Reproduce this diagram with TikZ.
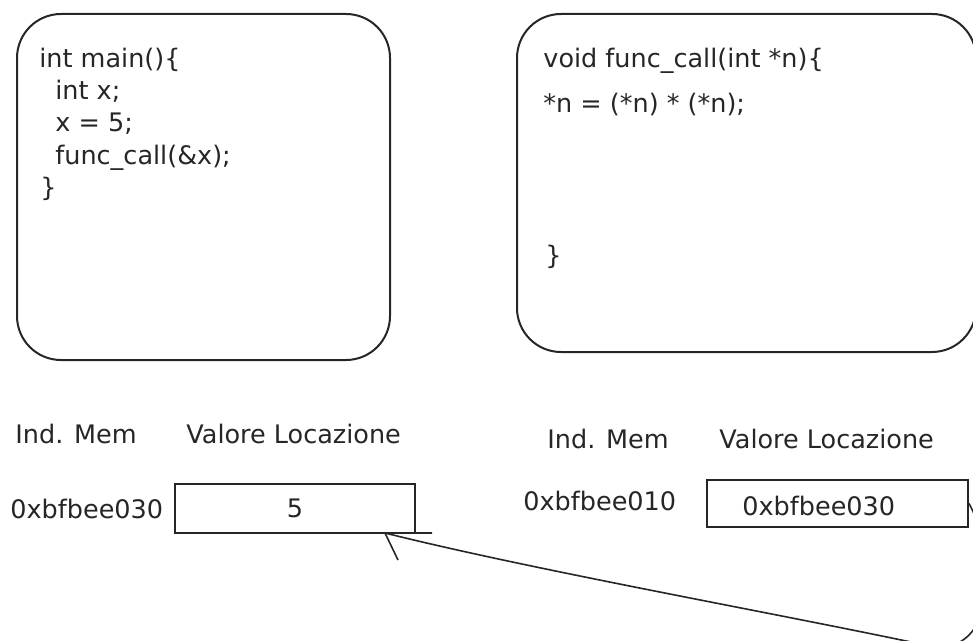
\documentclass[tikz,border=0pt]{standalone}
\usepackage{fontspec}
\setmainfont{DejaVu Sans}
\begin{document}
\begin{tikzpicture}[x=0.5pt,y=-0.5pt,
  txt/.style={anchor=base west,inner sep=0,font=\fontsize{12.75}{15}\selectfont,text=black!85},
  frame/.style={draw=black!85,line width=1pt,rounded corners=22pt,inner sep=0},
  cell/.style={draw=black!85,line width=1pt,inner sep=0,font=\fontsize{12.75}{15}\selectfont,text=black!85},
  conn/.style={draw=black!85,line width=0.8pt}]
\useasboundingbox (0,0) rectangle (973,641);
% frames
\node[frame,minimum width=186.5pt,minimum height=173pt] (mainbox) at (203.5,187) {};
\node[frame,minimum width=229.5pt,minimum height=169pt] (funcbox) at (746.5,183) {};
% code in main
\node[txt] (m1) at (39,68) {int main()\{};
\node[txt] (m2) at (55,100) {int x;};
\node[txt] (m3) at (55,132) {x = 5;};
\node[txt] (m4) at (55,165) {func\_call(\&x);};
\node[txt] (m5) at (40,197) {\}};
% code in func
\node[txt] (f1) at (543,68) {void func\_call(int *n)\{};
\node[txt] (f2) at (543,113) {*n = (*n) * (*n);};
\node[txt] (f3) at (545,265) {\}};
% headings
\node[txt] (h1) at (15,443) {Ind. Mem};
\node[txt] (h2) at (186,443) {Valore Locazione};
\node[txt] (h3) at (547,448) {Ind. Mem};
\node[txt] (h4) at (719,448) {Valore Locazione};
% addresses
\node[txt] (a1) at (10,518) {0xbfbee030};
\node[txt] (a2) at (523,510) {0xbfbee010};
% cells
\node[cell,minimum width=120pt,minimum height=24.5pt] (c1) at (295,508.5) {5};
\node[cell,minimum width=130.5pt,minimum height=23.5pt] (c2) at (837.5,503.5) {};
\node[txt] (v2) at (742,515) {0xbfbee030};
% connector
\coordinate (tip) at (385,533);
\coordinate (bend) at (925,645);
\coordinate (barbA) at (432,533);
\coordinate (barbB) at (398,560);
\draw[conn] (c2.east) .. controls (1000,560) and (995,662) .. (bend)
  .. controls (780,614) and (535,570.5) .. (tip);
\draw[conn] (barbA) -- (tip) -- (barbB);
\end{tikzpicture}
\end{document}
